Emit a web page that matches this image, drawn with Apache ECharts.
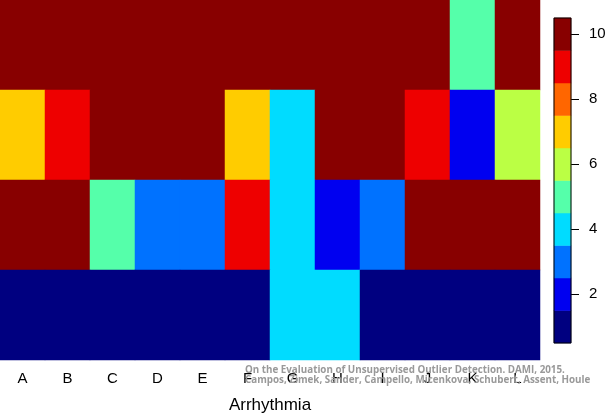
<!DOCTYPE html>
<html><head><meta charset="utf-8">
<script src="https://cdn.jsdelivr.net/npm/echarts@6/dist/echarts.min.js"></script>
<style>html,body{margin:0;padding:0;background:#fff}#c{width:605px;height:415px}</style>
</head><body><div id="c"></div>
<script>
const categories = ['A','B','C','D','E','F','G','H','I','J','K','L'];
const rowNames = ['r1','r2','r3','r4']; // top to bottom
const row1 = [10,10,10,10,10,10,10,10,10,10,5,10];
const row2 = [7,9,10,10,10,7,4,10,10,9,2,6];
const row3 = [10,10,5,3,3,9,4,2,3,10,10,10];
const row4 = [1,1,1,1,1,1,4,4,1,1,1,1];
const levels = [1,2,3,4,5,6,7,8,9,10];
const levelColors = ['#000080','#0000F0','#0072FF','#00DCFF','#55FFAA','#BBFF44','#FFCC00','#FF6600','#EE0000','#880000'];
const colorbarTicks = [2,4,6,8,10];
const xTitle = 'Arrhythmia';
const credit1 = 'On the Evaluation of Unsupervised Outlier Detection. DAMI, 2015.';
const credit2 = 'Campos, Zimek, Sander, Campello, Micenkova, Schubert, Assent, Houle';

const rowValues = [row1,row2,row3,row4];
const heatData = [];
rowValues.forEach((r, ri) => r.forEach((v, ci) => heatData.push([ci, rowNames.length-1-ri, v])));
const barData = levels.map((v,i)=>[0,i,v]);
const FONT = 'Liberation Sans';

const chart = echarts.init(document.getElementById('c'));
chart.setOption({
  animation:false,
  grid:[
    {left:0,top:0,width:540,height:360,outerBoundsMode:'none',containLabel:false},
    {left:554,top:18,width:17,height:325,outerBoundsMode:'none',containLabel:false,show:true,borderColor:'#000',borderWidth:1,backgroundColor:'transparent',z:5}
  ],
  xAxis:[
    {type:'category',data:categories,gridIndex:0,axisLine:{show:false},axisTick:{show:false},
     axisLabel:{fontSize:15,color:'#000',margin:11,fontFamily:FONT},
     name:xTitle,nameLocation:'middle',nameGap:37,nameTextStyle:{fontSize:17,color:'#000',fontFamily:FONT}},
    {type:'category',data:[''],gridIndex:1,show:false}
  ],
  yAxis:[
    {type:'category',data:rowNames.slice().reverse(),gridIndex:0,show:false},
    {type:'category',data:levels.map(String),gridIndex:1,position:'right',
     axisLine:{show:false},
     axisTick:{show:true,alignWithLabel:true,length:8,interval:(i,v)=>colorbarTicks.includes(+v),lineStyle:{color:'#000',width:1}},
     axisLabel:{interval:(i,v)=>colorbarTicks.includes(+v),fontSize:15,color:'#000',margin:18,fontFamily:FONT}}
  ],
  visualMap:{type:'piecewise',show:false,dimension:2,seriesIndex:[0,1],
    pieces:levels.map((v,i)=>({value:v,color:levelColors[i]}))},
  series:[
    {type:'heatmap',data:heatData,xAxisIndex:0,yAxisIndex:0},
    {type:'heatmap',data:barData,xAxisIndex:1,yAxisIndex:1}
  ],
  graphic:[{type:'text',left:245,top:365,z:100,silent:true,
    style:{text:credit1+'\n'+credit2,font:'bold 9.8px "Open Sans"',fill:'#999',lineHeight:10}}]
});
</script></body></html>
